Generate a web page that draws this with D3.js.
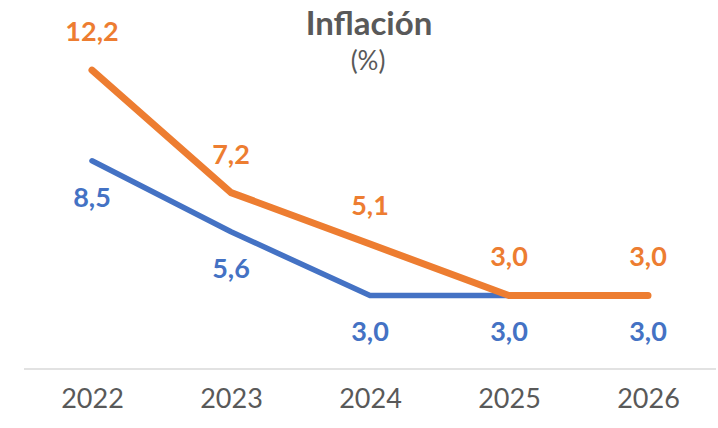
<!DOCTYPE html>
<html>
<head>
<meta charset="utf-8">
<script src="https://cdn.jsdelivr.net/npm/d3@7"></script>
<style>
  body { margin: 0; background: #fff; }
  text { font-family: Lato, "Open Sans", sans-serif; }
</style>
</head>
<body>
<svg id="vis" width="718" height="428"></svg>
<script>
// data
const years = ["2022", "2023", "2024", "2025", "2026"];
const orangeVals = [12.2, 7.2, 5.1, 3.0, 3.0];
const blueVals = [8.5, 5.6, 3.0, 3.0, 3.0];

const svg = d3.select("#vis");

const x = d3.scalePoint().domain(years).range([92, 648]);
const y = d3.scaleLinear().domain([0, 14]).range([369, 26]);

const fmt = function(v) { return d3.format(".1f")(v).replace(".", ","); };

// baseline
svg.append("line")
  .attr("x1", 24).attr("x2", 716)
  .attr("y1", y(0)).attr("y2", y(0))
  .attr("stroke", "#d9d9d9")
  .attr("stroke-width", 1.5);

// x axis labels
const xAxis = d3.axisBottom(x).tickSize(0).tickPadding(0);
const gx = svg.append("g")
  .attr("transform", "translate(0," + (y(0) + 32) + ")")
  .call(xAxis);
gx.select(".domain").remove();
gx.selectAll("text")
  .attr("dy", 0)
  .attr("y", 0)
  .attr("dominant-baseline", "middle")
  .style("font-family", "Lato, sans-serif")
  .style("font-size", "27px")
  .attr("fill", "#595959");

const line = d3.line()
  .x(function(d, i) { return x(years[i]); })
  .y(function(d) { return y(d); });

const series = [
  { vals: blueVals, color: "#4472c4", width: 5.5, dy: 39 },
  { vals: orangeVals, color: "#ed7d31", width: 7, dy: -36 }
];

series.forEach(function(s) {
  svg.append("path")
    .datum(s.vals)
    .attr("d", line)
    .attr("fill", "none")
    .attr("stroke", s.color)
    .attr("stroke-width", s.width)
    .attr("stroke-linecap", "round")
    .attr("stroke-linejoin", "round");
});

series.forEach(function(s) {
  svg.append("g").selectAll("text")
    .data(s.vals)
    .enter().append("text")
    .attr("x", function(d, i) { return x(years[i]); })
    .attr("y", function(d) { return y(d) + s.dy; })
    .attr("text-anchor", "middle")
    .attr("dominant-baseline", "middle")
    .attr("fill", s.color)
    .style("font-size", "27px")
    .style("font-weight", "bold")
    .text(fmt);
});

// title
svg.append("text")
  .attr("x", 369).attr("y", 35)
  .attr("text-anchor", "middle")
  .attr("fill", "#595959")
  .style("font-size", "33px")
  .style("font-weight", "bold")
  .text("Inflación");

svg.append("text")
  .attr("x", 368).attr("y", 63)
  .attr("text-anchor", "middle")
  .attr("dominant-baseline", "middle")
  .attr("fill", "#595959")
  .style("font-size", "26px")
  .text("(%)");
</script>
</body>
</html>
